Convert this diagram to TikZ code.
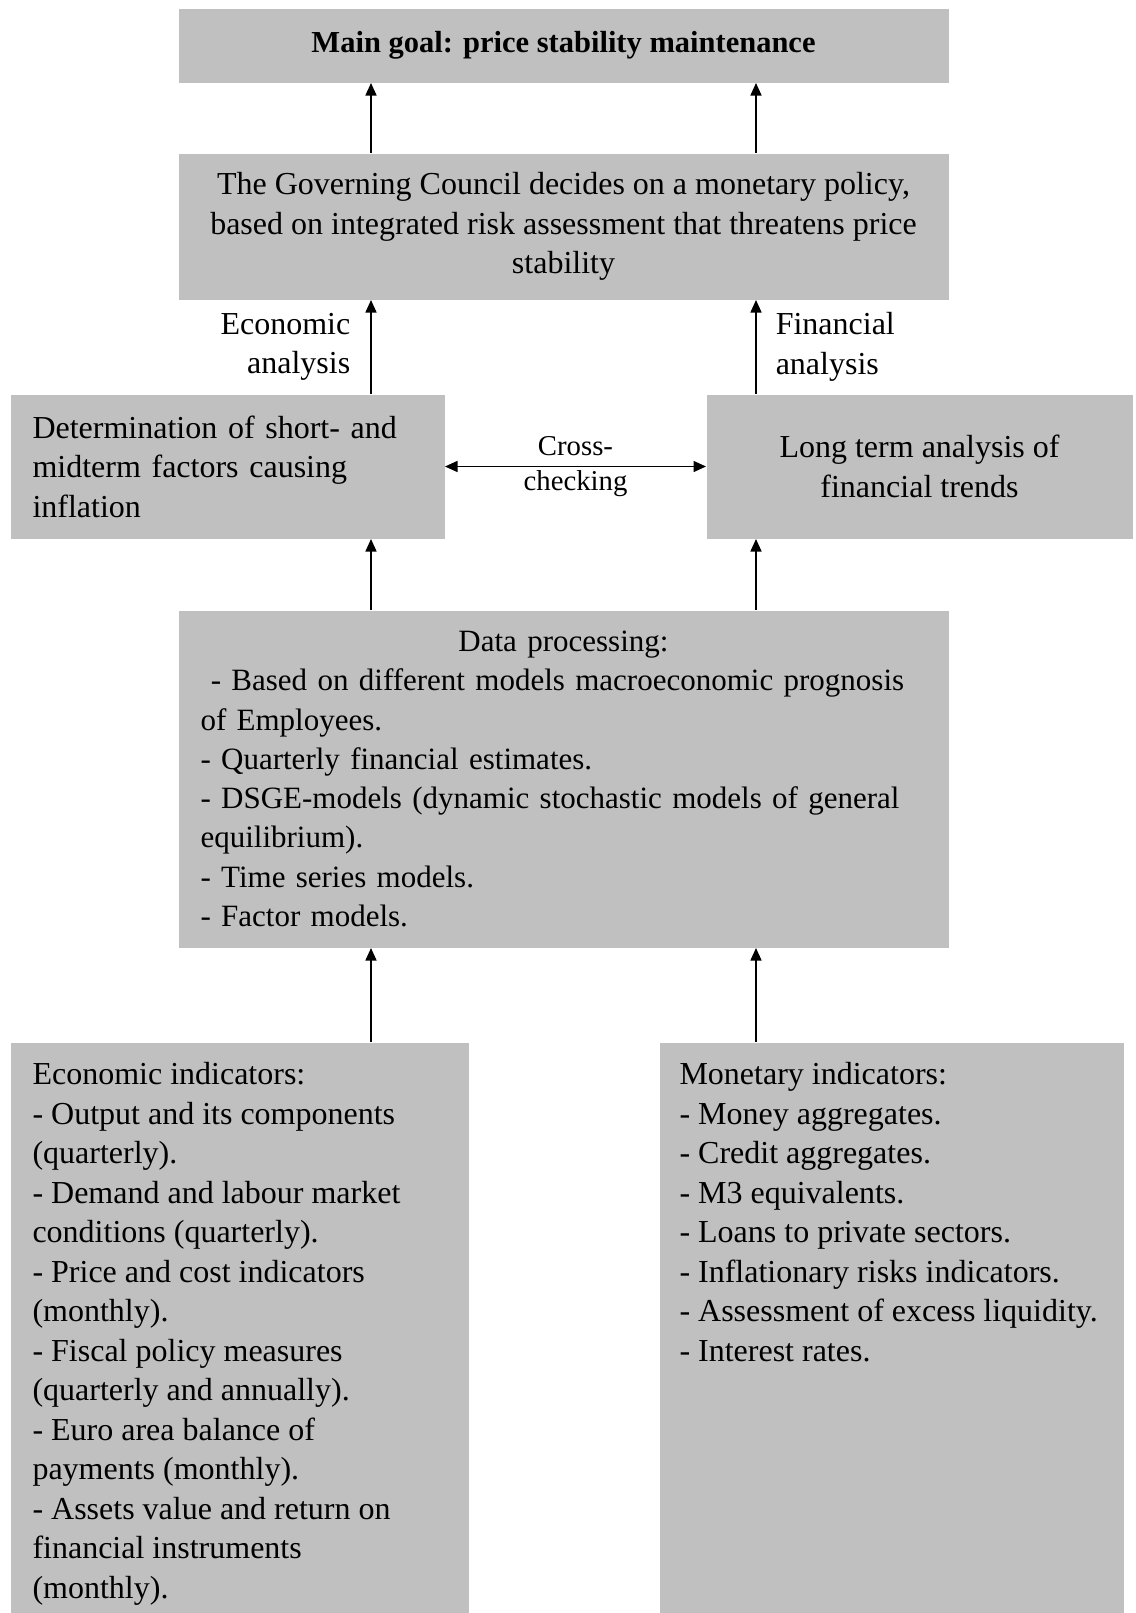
\documentclass[tikz,border=0pt]{standalone}
\usepackage{fontspec}
\setmainfont{Liberation Serif}
\usepackage{tikz}
\usetikzlibrary{arrows.meta, positioning, backgrounds}
\definecolor{boxgray}{RGB}{192,192,192}

\begin{document}
\begin{tikzpicture}[
    x=0.4pt, y=-0.4pt,
    mainfont/.style={font=\fontsize{12.8}{15.8}\selectfont},
    graybox/.style={rectangle, fill=boxgray, inner sep=0pt, anchor=north west, mainfont, align=center},
    listtext/.style={inner sep=0pt, mainfont, align=left},
    arrow/.style={-{Triangle[length=5pt, width=4.4pt]}, line width=0.6pt},
    biarrow/.style={{Triangle[length=5pt, width=4.4pt]}-{Triangle[length=5pt, width=4.4pt]}, line width=0.6pt},
    sidelabel/.style={mainfont, inner sep=0pt},
    node distance=28pt
]
\useasboundingbox (0,0) rectangle (1135,1613);

\node[graybox, minimum width=308pt, minimum height=29.6pt, font=\fontsize{12.2}{15.8}\selectfont] (goal) at (178,8)
    {\textbf{Main goal: price stability maintenance}};
\node[graybox, anchor=north, minimum width=308pt, minimum height=58.4pt, below=of goal] (council)
    {The Governing Council decides on a monetary policy,\\
     based on integrated risk assessment that threatens price\\
     stability};

\node[graybox, align=left, text width=156pt, inner xsep=8.8pt, minimum height=57.6pt] (econ) at (10,394)
    {Determination of short- and\\ midterm factors causing\\ inflation};
\node[graybox, minimum width=170.4pt, minimum height=57.6pt] (fin) at (706,394)
    {Long term analysis of\\ financial trends};

\node[graybox, align=left, text width=290.4pt, inner xsep=8.8pt, minimum height=134.8pt,
      font=\fontsize{12.4}{15.7}\selectfont] (data) at (178,610)
    {\makebox[\linewidth]{Data processing:}\\
     \ - Based on different models macroeconomic prognosis\\
     of Employees.\\
     - Quarterly financial estimates.\\
     - DSGE-models (dynamic stochastic models of general\\
     equilibrium).\\
     - Time series models.\\
     - Factor models.};

% indicator boxes run down to the page edge
\node[graybox, minimum width=183.2pt, minimum height=228.4pt] (ecoind) at (10,1042) {};
\node[graybox, minimum width=185.6pt, minimum height=228.4pt] (monind) at (659,1042) {};

\node[listtext, below right=8pt and 8.8pt of ecoind.north west] (ecotext)
    {Economic indicators:\\
     - Output and its components\\
     (quarterly).\\
     - Demand and labour market\\
     conditions (quarterly).\\
     - Price and cost indicators\\
     (monthly).\\
     - Fiscal policy measures\\
     (quarterly and annually).\\
     - Euro area balance of\\
     payments (monthly).\\
     - Assets value and return on\\
     financial instruments\\
     (monthly).};
\node[listtext, below right=8pt and 8pt of monind.north west] (montext)
    {Monetary indicators:\\
     - Money aggregates.\\
     - Credit aggregates.\\
     - M3 equivalents.\\
     - Loans to private sectors.\\
     - Inflationary risks indicators.\\
     - Assessment of excess liquidity.\\
     - Interest rates.};

\coordinate (lx) at (371,0);
\coordinate (rx) at (756,0);

% Arrows
\draw[arrow] (council.north -| lx) -- (goal.south -| lx);
\draw[arrow] (council.north -| rx) -- (goal.south -| rx);
\draw[arrow] (econ.north -| lx) -- node[sidelabel, left=8pt, align=right] {Economic\\ analysis} (council.south -| lx);
\draw[arrow] (fin.north -| rx) -- node[sidelabel, right=7.6pt, align=left] {Financial\\ analysis} (council.south -| rx);
\draw[biarrow] (econ.east) -- node[font=\fontsize{11.5}{14}\selectfont, align=center] {Cross-\\ checking} (fin.west);
\draw[arrow] (data.north -| lx) -- (econ.south -| lx);
\draw[arrow] (data.north -| rx) -- (fin.south -| rx);
\draw[arrow] (ecoind.north -| lx) -- (data.south -| lx);
\draw[arrow] (monind.north -| rx) -- (data.south -| rx);

\end{tikzpicture}
\end{document}
